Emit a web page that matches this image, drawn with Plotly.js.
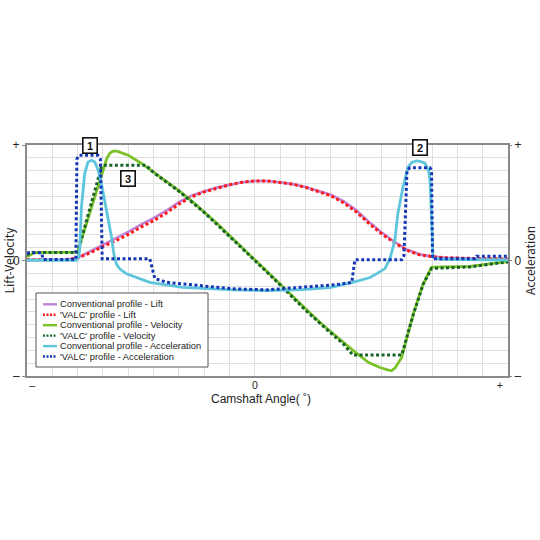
<!DOCTYPE html>
<html>
<head>
<meta charset="utf-8">
<script src="https://cdn.plot.ly/plotly-3.0.1.min.js"></script>
<style>html,body{margin:0;padding:0;background:#fff;}#chart{width:540px;height:540px;}</style>
</head>
<body>
<div id="chart"></div>
<script>
// ---------- data (grid units: x = camshaft angle, y = normalised value) ----------
const liftX = [-9,-8,-7.5,-7,-6.5,-6,-5.5,-5,-4.5,-4,-3.5,-3,-2.5,-2,-1.5,-1,-0.5,0,0.5,1,1.5,2,2.5,3,3.5,4,4.5,5,5.5,6,6.5,7,7.5,8,9,10];
const liftConv = [0.05,0.05,0.06,0.22,0.72,1.27,1.72,2.23,2.8,3.3,3.88,4.55,5.05,5.4,5.68,5.92,6.1,6.2,6.2,6.1,5.95,5.72,5.44,5.12,4.62,3.93,3.02,2.2,1.48,0.85,0.48,0.3,0.22,0.18,0.14,0.12];
const liftValc = [0.05,0.05,0.06,0.2,0.6,1.1,1.53,2.03,2.6,3.1,3.7,4.4,4.95,5.35,5.65,5.9,6.1,6.2,6.2,6.1,5.95,5.7,5.4,5.05,4.5,3.8,2.9,2.1,1.4,0.8,0.45,0.3,0.22,0.18,0.14,0.12];

const velConvX = [-9,-8.7,-7.0,-6.5,-6.0,-5.85,-5.73,-5.6,-5.45,-5.3,-5.0,-4.5,-4.0,-3.5,-3.0,-2.5,-2.0,-1.5,-1.0,-0.5,0,0.5,1.0,1.5,2.0,2.5,3.0,3.5,4.0,4.5,4.94,5.25,5.40,5.55,5.80,6.26,6.65,6.98,7.5,8.5,9.8,10];
const velConv  = [0.3,0.62,0.65,3.8,7.1,7.95,8.35,8.52,8.52,8.42,8.2,7.6,6.9,6.2,5.45,4.65,3.8,2.9,1.95,1.0,0.05,-0.9,-1.85,-2.85,-3.8,-4.7,-5.55,-6.4,-7.2,-7.95,-8.34,-8.52,-8.59,-8.35,-7.55,-4.16,-1.82,-0.52,-0.5,-0.45,-0.13,-0.1];

const velValcX = [-9,-8.8,-7.0,-6.06,-5.98,-4.3,-4.0,-3.0,-2.0,-1.0,0,1.0,2.0,3.0,3.5,3.87,5.80,6.26,6.65,6.98,7.5,8.5,9.8,10];
const velValc  = [0.45,0.62,0.62,7.3,7.42,7.42,6.85,5.4,3.75,1.9,0.0,-1.9,-3.87,-5.65,-6.5,-7.37,-7.37,-4.2,-1.85,-0.62,-0.58,-0.5,-0.15,-0.12];

const accConvX = [-9,-7.05,-6.98,-6.92,-6.85,-6.72,-6.59,-6.45,-6.32,-6.19,-6.06,-5.93,-5.80,-5.66,-5.57,-5.47,-5.34,-5.07,-4.15,-2.85,-0.87,0.47,1.90,2.96,3.87,4.55,4.82,5.14,5.34,5.53,5.65,5.85,6.05,6.21,6.39,6.56,6.72,6.86,6.92,6.96,7.0,7.04,7.31,10];
const accConv  = [0.02,0.02,0.2,0.78,4.16,6.77,7.68,7.81,7.68,7.03,5.99,4.69,3.38,1.82,0.52,-0.26,-0.65,-1.04,-1.70,-2.09,-2.29,-2.34,-2.27,-2.11,-1.70,-1.33,-1.02,-0.63,0.16,1.56,3.67,5.70,7.27,7.66,7.76,7.70,7.58,7.03,6.25,3.91,1.17,0.26,0.08,0.04];

const accValcX = [-9,-8.42,-8.36,-7.07,-7.03,-6.95,-6.2,-6.1,-6.03,-4.15,-4.05,-3.95,-3.48,-2.17,-0.87,0.47,1.90,3.24,3.83,3.9,3.95,5.80,5.89,6.01,6.13,6.92,6.98,7.02,8.70,8.76,10];
const accValc  = [0.6,0.6,0.08,0.08,7.9,8.2,8.2,7.9,0.13,0.13,-0.63,-1.41,-1.70,-1.95,-2.21,-2.29,-2.09,-1.88,-1.70,-0.8,0.05,0.05,0.39,7.03,7.23,7.23,7.03,0.13,0.13,0.34,0.34];

const seriesNames = ["Conventional profile - Lift","'VALC' profile - Lift","Conventional profile - Velocity","'VALC' profile - Velocity","Conventional profile - Acceleration","'VALC' profile - Acceleration"];
const yTickText = ["–","0","+"];
const xTickText = ["–","0","+"];
const markerLabels = ["1","2","3"];
const xTitle = "Camshaft Angle( ˚)";
const yTitleLeft = "Lift-Velocity";
const yTitleRight = "Acceleration";

// ---------- styles ----------
const colors = ["#c084d6","#ff1a1a","#7cc22a","#17632a","#5ec6dc","#1537b5"];
const dots = "3px,2.5px";
const styles = [
  {color:colors[0], width:2.6, dash:"solid"},
  {color:colors[1], width:3, dash:dots},
  {color:colors[2], width:2.8, dash:"solid"},
  {color:colors[3], width:3, dash:dots},
  {color:colors[4], width:2.8, dash:"solid"},
  {color:colors[5], width:3, dash:dots}
];
const font = "'Noto Sans CJK JP', 'Noto Sans', 'Liberation Sans', sans-serif";
const sans = "'Liberation Sans', Arial, sans-serif";

const traces = [
  {x:liftX, y:liftConv, yaxis:"y"},
  {x:liftX, y:liftValc, yaxis:"y"},
  {x:velConvX, y:velConv, yaxis:"y"},
  {x:velValcX, y:velValc, yaxis:"y"},
  {x:accConvX, y:accConv, yaxis:"y2"},
  {x:accValcX, y:accValc, yaxis:"y2"}
].map((t,i)=>Object.assign(t,{
  type:"scatter", mode:"lines", name:seriesNames[i], hoverinfo:"skip",
  line:Object.assign({}, styles[i], {shape:"linear"})
}));

// pixel -> paper helpers for the hand-made legend box
const M = {l:27, r:32, t:145, b:164};
const W = 540, H = 540;
const pw = W - M.l - M.r, ph = H - M.t - M.b;
const px = v => (v - M.l) / pw;
const py = v => (H - M.b - v) / ph;

const shapes = [];
const annotations = [];
// legend box
shapes.push({type:"rect", xref:"paper", yref:"paper", x0:px(36), x1:px(208), y0:py(367), y1:py(293),
  fillcolor:"#ffffff", line:{color:"#555", width:1}, layer:"above"});
seriesNames.forEach((n,i)=>{
  const yy = 304.3 + i*10.45;
  shapes.push({type:"line", xref:"paper", yref:"paper", x0:px(43), x1:px(57), y0:py(yy), y1:py(yy),
    line:{color:styles[i].color, width:2.4, dash:styles[i].dash==="solid"?"solid":"2px,1.5px"}, layer:"above"});
  annotations.push({xref:"paper", yref:"paper", x:px(59), y:py(yy), xanchor:"left", yanchor:"middle",
    text:n, showarrow:false, borderpad:0,
    font:{family:sans, size:9.3, color:"#222"}});
});
// numbered boxes
const markerPos = [[-6.5,9.0],[6.52,8.83],[-5.0,6.37]];
markerLabels.forEach((t,i)=>{
  annotations.push({xref:"x", yref:"y", x:markerPos[i][0], y:markerPos[i][1], text:"<b>"+t+"</b>",
    showarrow:false, bgcolor:"#ffffff", bordercolor:"#111", borderwidth:1.6, borderpad:1, width:11, height:12,
    font:{family:sans, size:11, color:"#111"}});
});
// x-axis title
annotations.push({xref:"paper", yref:"paper", x:px(261), y:py(399), xanchor:"center", yanchor:"middle",
  text:xTitle, showarrow:false, font:{family:sans, size:12, color:"#222"}});

const gridColor = "#e0e0e0";
const tickFont = {family:sans, size:12, color:"#222"};
const layout = {
  width:W, height:H, margin:M, showlegend:false,
  paper_bgcolor:"#fff", plot_bgcolor:"#fff",
  font:{family:font, color:"#333", size:10},
  xaxis:{range:[-9,10], tickmode:"array", tickvals:[-8.8,0,9.68], ticktext:xTickText, ticks:"",
    ticklabelstandoff:-2,
    showgrid:false, zeroline:true, zerolinecolor:gridColor, zerolinewidth:1,
    minor:{tickmode:"linear", tick0:0, dtick:1, showgrid:true, gridcolor:gridColor, gridwidth:1, ticks:""},
    showline:true, mirror:true, linecolor:"#8a8a8a", linewidth:2,
    tickfont:{family:sans, size:10.5, color:"#222"}, fixedrange:true},
  yaxis:{range:[-9,9], tickmode:"array", tickvals:[-9,0,9], ticktext:yTickText, ticks:"outside", ticklen:3, tickcolor:"#8a8a8a",
    showgrid:false, zeroline:true, zerolinecolor:gridColor, zerolinewidth:1,
    minor:{tickmode:"linear", tick0:0, dtick:1, showgrid:true, gridcolor:gridColor, gridwidth:1, ticks:""},
    showline:true, mirror:true, linecolor:"#8a8a8a", linewidth:2,
    tickfont:tickFont,
    title:{text:yTitleLeft, font:{size:12, color:"#222"}, standoff:1}, fixedrange:true},
  yaxis2:{range:[-9,9], overlaying:"y", side:"right", tickmode:"array", tickvals:[-9,0,9], ticktext:yTickText,
    ticks:"outside", ticklen:3, tickcolor:"#8a8a8a", showgrid:false, zeroline:false, showline:false,
    tickfont:tickFont,
    title:{text:yTitleRight, font:{size:12, color:"#222"}, standoff:0}, fixedrange:true},
  shapes:shapes, annotations:annotations
};

Plotly.newPlot("chart", traces, layout, {displayModeBar:false, staticPlot:true});
</script>
</body>
</html>
